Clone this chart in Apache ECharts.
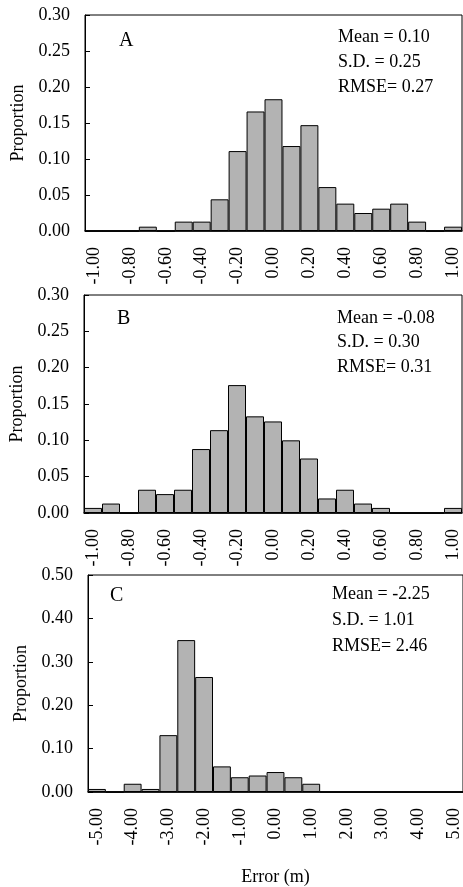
<!DOCTYPE html>
<html>
<head>
<meta charset="utf-8">
<script src="https://cdn.jsdelivr.net/npm/echarts@6/dist/echarts.min.js"></script>
<style>
html,body{margin:0;padding:0;background:#fff;}
#chart{width:463px;height:887px;}
</style>
</head>
<body>
<div id="chart"></div>
<script>
// ---- data ----
const binsAB = ['-1.00','-0.90','-0.80','-0.70','-0.60','-0.50','-0.40','-0.30','-0.20','-0.10','0.00','0.10','0.20','0.30','0.40','0.50','0.60','0.70','0.80','0.90','1.00'];
const binsC = ['-5.00','-4.50','-4.00','-3.50','-3.00','-2.50','-2.00','-1.50','-1.00','-0.50','0.00','0.50','1.00','1.50','2.00','2.50','3.00','3.50','4.00','4.50','5.00'];
const propA = [0,0,0,0.006,0,0.013,0.013,0.044,0.111,0.166,0.183,0.118,0.147,0.061,0.038,0.025,0.031,0.038,0.013,0,0.006];
const propB = [0.007,0.013,0,0.032,0.026,0.032,0.088,0.114,0.176,0.133,0.126,0.100,0.075,0.020,0.032,0.013,0.007,0,0,0,0.007];
const propC = [0.007,0,0.019,0.007,0.131,0.350,0.265,0.059,0.034,0.038,0.046,0.034,0.019,0,0,0,0,0,0,0,0];
const yMaxAB = 0.30, yStepAB = 0.05;
const yMaxC = 0.50, yStepC = 0.10;
const panelLetters = ['A','B','C'];
const statsA = ['Mean = 0.10','S.D. = 0.25','RMSE= 0.27'];
const statsB = ['Mean = -0.08','S.D. = 0.30','RMSE= 0.31'];
const statsC = ['Mean = -2.25','S.D. = 1.01','RMSE= 2.46'];
const yTitle = 'Proportion';
const xTitle = 'Error (m)';

// ---- layout ----
const FONT = 'Liberation Serif';
const FS = 18;
const grids = [
  {left:85, top:15, width:377, height:216},
  {left:84, top:295, width:378, height:218},
  {left:88, top:575, width:378, height:227}
];
const cats = [binsAB, binsAB, binsC];
const vals = [propA, propB, propC];
const maxes = [yMaxAB, yMaxAB, yMaxC];
const steps = [yStepAB, yStepAB, yStepC];
const stats = [statsA, statsB, statsC];

const option = {
  animation:false,
  backgroundColor:'#fff',
  textStyle:{fontFamily:FONT},
  grid: grids.map(g => Object.assign({show:true, borderColor:'#000', borderWidth:1, containLabel:false}, g)),
  xAxis: grids.map((g,i) => ({
    type:'category', gridIndex:i, data:cats[i], boundaryGap:true,
    axisLine:{lineStyle:{color:'#000', width:1.5}},
    axisTick:{inside:true, length:5, interval:0, lineStyle:{color:'#000'}},
    axisLabel:{interval:1, rotate:90, margin:16, color:'#000', fontFamily:FONT, fontSize:FS},
    name: i===2 ? xTitle : '', nameLocation:'middle', nameGap:76,
    nameTextStyle:{color:'#000', fontFamily:FONT, fontSize:FS}
  })),
  yAxis: grids.map((g,i) => ({
    type:'value', gridIndex:i, min:0, max:maxes[i], interval:steps[i],
    splitLine:{show:false},
    axisLine:{show:true, lineStyle:{color:'#000', width:1}},
    axisTick:{show:true, inside:true, length:5, lineStyle:{color:'#000'}},
    axisLabel:{margin:15, color:'#000', fontFamily:FONT, fontSize:FS, formatter:v=>v.toFixed(2)},
    name:yTitle, nameLocation:'middle', nameRotate:90, nameGap:58,
    nameTextStyle:{color:'#000', fontFamily:FONT, fontSize:FS}
  })),
  series: grids.map((g,i) => ({
    type:'bar', xAxisIndex:i, yAxisIndex:i, data:vals[i],
    barCategoryGap:'0%', barGap:'0%',
    itemStyle:{color:'#b3b3b3', borderColor:'#000', borderWidth:1}
  })),
  graphic: []
};

const letterPos = [[119,42],[117,320],[110,597]];
const statPos = [[338,38],[337,319],[332,595]];
const statGap = [25,24.5,26];
for (let i=0;i<3;i++){
  option.graphic.push({type:'text', left:letterPos[i][0], top:letterPos[i][1]-11,
    style:{text:panelLetters[i], font:'20px "Liberation Serif"', fill:'#000'}});
  stats[i].forEach((s,k)=>{
    option.graphic.push({type:'text', left:statPos[i][0], top:statPos[i][1]+k*statGap[i]-10,
      style:{text:s, font:'18px "Liberation Serif"', fill:'#000'}});
  });
}

const chart = echarts.init(document.getElementById('chart'), null, {renderer:'canvas'});
chart.setOption(option);
</script>
</body>
</html>
